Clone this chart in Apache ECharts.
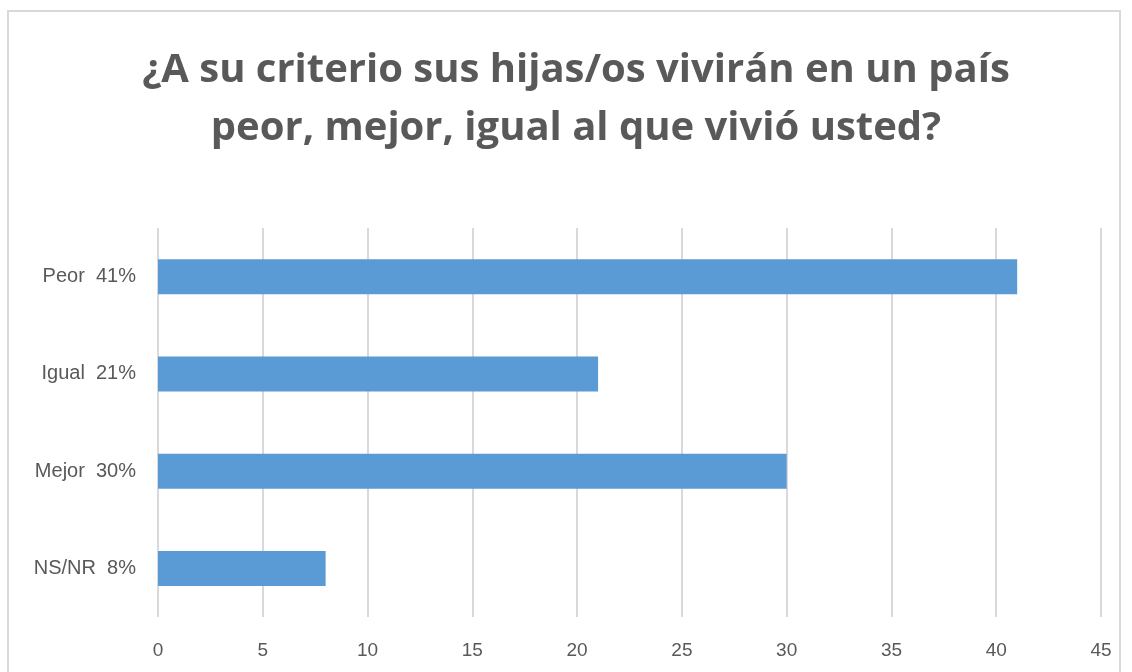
<!DOCTYPE html>
<html>
<head>
<meta charset="utf-8">
<script src="https://cdn.jsdelivr.net/npm/echarts@6/dist/echarts.min.js"></script>
<style>
html,body{margin:0;padding:0;background:#fff;}
#main{width:1132px;height:672px;}
</style>
</head>
<body>
<div id="main"></div>
<script>
var categories = ['Peor  41%', 'Igual  21%', 'Mejor  30%', 'NS/NR  8%'];
var values = [41, 21, 30, 8];
var axisTicks = [0, 5, 10, 15, 20, 25, 30, 35, 40, 45];

var myChart = echarts.init(document.getElementById('main'));
var option = {
    backgroundColor: '#fff',
    title: {
        text: '¿A su criterio sus hijas/os vivirán en un país\npeor, mejor, igual al que vivió usted?',
        left: 571,
        top: 37,
        textAlign: 'center',
        textStyle: {
            fontFamily: 'Open Sans',
            fontWeight: 'bold',
            fontSize: 40,
            lineHeight: 58,
            color: '#595959'
        }
    },
    graphic: [{
        type: 'rect',
        shape: {x: 8, y: 11, width: 1112, height: 700},
        style: {fill: 'none', stroke: '#d9d9d9', lineWidth: 2},
        silent: true
    }],
    grid: {
        left: 158,
        right: 31,
        top: 228,
        bottom: 55
    },
    xAxis: {
        type: 'value',
        min: axisTicks[0],
        max: axisTicks[axisTicks.length - 1],
        interval: 5,
        axisLine: {show: false},
        axisTick: {show: false},
        axisLabel: {color: '#595959', fontSize: 19, fontFamily: 'Liberation Sans', margin: 24},
        splitLine: {lineStyle: {color: '#d9d9d9', width: 2}}
    },
    yAxis: {
        type: 'category',
        inverse: true,
        data: categories,
        axisLine: {show: false},
        axisTick: {show: false},
        axisLabel: {color: '#595959', fontSize: 20, fontFamily: 'Liberation Sans', margin: 22}
    },
    series: [{
        type: 'bar',
        data: values,
        barWidth: 35,
        itemStyle: {color: '#5b9bd5'}
    }],
    animation: false
};
myChart.setOption(option);
</script>
</body>
</html>
